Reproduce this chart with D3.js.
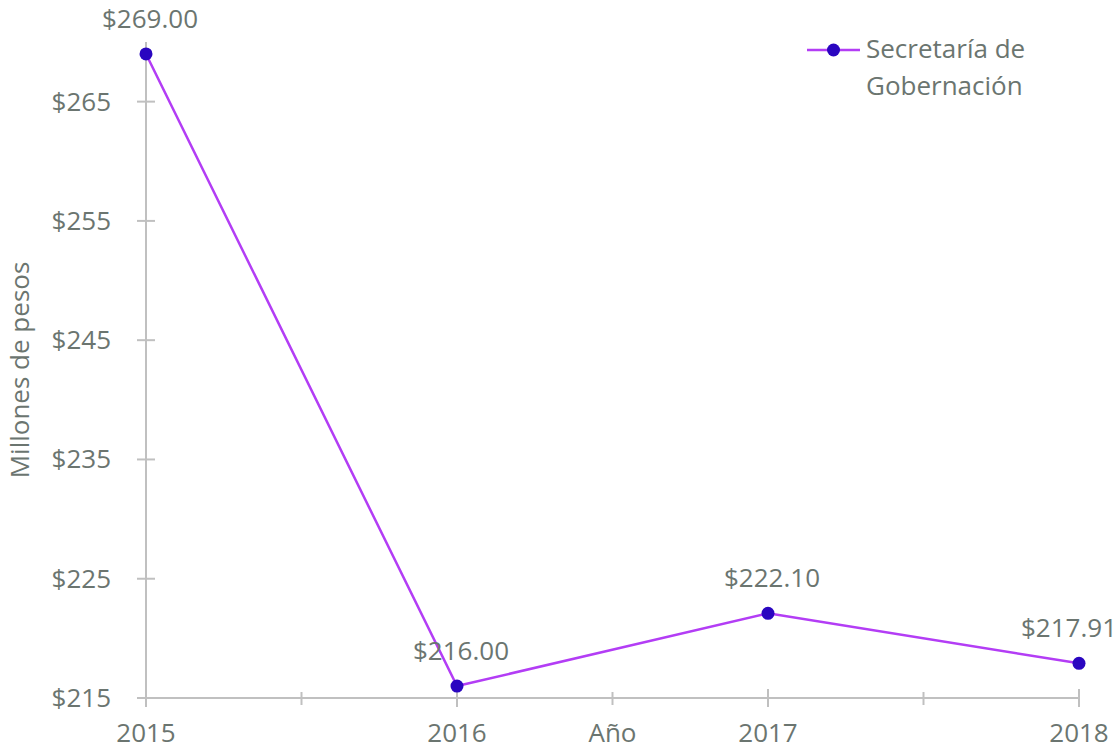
<!DOCTYPE html>
<html>
<head>
<meta charset="utf-8">
<script src="https://cdn.jsdelivr.net/npm/d3@7"></script>
<style>
  html, body { margin: 0; padding: 0; background: #fff; }
  svg { display: block; font-family: "Open Sans", sans-serif; }
</style>
</head>
<body>
<div id="chart"></div>
<script>
// Gasto anual, Secretaría de Gobernación (millones de pesos)
const years = [2015, 2016, 2017, 2018];
const values = [269.00, 216.00, 222.10, 217.91];
const valueLabels = ['$269.00', '$216.00', '$222.10', '$217.91'];
const yTickValues = [215, 225, 235, 245, 255, 265];
const seriesName = ['Secretaría de', 'Gobernación'];

const W = 1119, H = 749;
const margin = { top: 42, right: 40, bottom: 51, left: 146 };
const width = W - margin.left - margin.right;
const height = H - margin.top - margin.bottom;

const textColor = '#6b7570';
const axisColor = '#c0c0c0';
const lineColor = '#b33df5';
const dotColor = '#2a06c0';
const fontSize = 26;

const svg = d3.select('#chart').append('svg')
  .attr('width', W).attr('height', H);
const g = svg.append('g').attr('transform', `translate(${margin.left},${margin.top})`);

const x = d3.scaleLinear().domain([2015, 2018]).range([0, width]);
const y = d3.scaleLinear().domain([215, 270]).range([height, 0]);

// Axes lines
g.append('line')
  .attr('x1', 0).attr('x2', 0).attr('y1', 0).attr('y2', height + 9)
  .attr('stroke', axisColor).attr('stroke-width', 2);
g.append('line')
  .attr('x1', -9).attr('x2', width).attr('y1', height).attr('y2', height)
  .attr('stroke', axisColor).attr('stroke-width', 2);

// Y ticks cross the axis
g.selectAll('.y-tick')
  .data(yTickValues)
  .enter().append('line')
  .attr('x1', -9).attr('x2', 9)
  .attr('y1', (d) => y(d)).attr('y2', (d) => y(d))
  .attr('stroke', axisColor).attr('stroke-width', 2);

g.selectAll('.y-label')
  .data(yTickValues)
  .enter().append('text')
  .attr('x', -35).attr('y', (d) => y(d) + 9)
  .attr('text-anchor', 'end')
  .attr('font-size', fontSize)
  .attr('fill', textColor)
  .text((d) => `$${d}`);

// X ticks: majors on years, minors at half years
const minors = years.slice(0, -1).map((yr) => yr + 0.5);
g.selectAll('.x-major')
  .data(years.slice(1))
  .enter().append('line')
  .attr('x1', (d) => x(d)).attr('x2', (d) => x(d))
  .attr('y1', height - 9).attr('y2', height + 9)
  .attr('stroke', axisColor).attr('stroke-width', 2);
g.selectAll('.x-minor')
  .data(minors)
  .enter().append('line')
  .attr('x1', (d) => x(d)).attr('x2', (d) => x(d))
  .attr('y1', height - 6).attr('y2', height + 7)
  .attr('stroke', axisColor).attr('stroke-width', 2);

g.selectAll('.x-label')
  .data(years)
  .enter().append('text')
  .attr('x', (d) => x(d)).attr('y', height + 44)
  .attr('text-anchor', 'middle')
  .attr('font-size', fontSize)
  .attr('fill', textColor)
  .text((d) => d);

// Axis titles
g.append('text')
  .attr('x', x(2016.5)).attr('y', height + 44)
  .attr('text-anchor', 'middle')
  .attr('font-size', fontSize)
  .attr('fill', textColor)
  .text('Año');
svg.append('text')
  .attr('transform', `translate(29,${margin.top + height / 2}) rotate(-90)`)
  .attr('text-anchor', 'middle')
  .attr('font-size', fontSize)
  .attr('fill', textColor)
  .text('Millones de pesos');

// Series
const rows = years.map((yr, i) => ({ year: yr, value: values[i], label: valueLabels[i] }));
const line = d3.line().x((d) => x(d.year)).y((d) => y(d.value));
g.append('path')
  .datum(rows)
  .attr('d', line)
  .attr('fill', 'none')
  .attr('stroke', lineColor)
  .attr('stroke-width', 2.5);

g.selectAll('.dot')
  .data(rows)
  .enter().append('circle')
  .attr('cx', (d) => x(d.year)).attr('cy', (d) => y(d.value))
  .attr('r', 6.5)
  .attr('fill', dotColor);

// Value labels; the last one is kept inside the chart edge
g.selectAll('.val')
  .data(rows)
  .enter().append('text')
  .attr('x', (d, i) => i === rows.length - 1 ? width + 38 : x(d.year) + 4)
  .attr('y', (d) => y(d.value) - 26)
  .attr('text-anchor', (d, i) => i === rows.length - 1 ? 'end' : 'middle')
  .attr('font-size', fontSize)
  .attr('fill', textColor)
  .text((d) => d.label);

// Legend
const leg = svg.append('g').attr('transform', 'translate(807,50)');
leg.append('line')
  .attr('x1', 0).attr('x2', 53).attr('y1', 0).attr('y2', 0)
  .attr('stroke', lineColor).attr('stroke-width', 2.5);
leg.append('circle').attr('cx', 26.5).attr('cy', 0).attr('r', 6.5).attr('fill', dotColor);
leg.selectAll('text')
  .data(seriesName)
  .enter().append('text')
  .attr('x', 59).attr('y', (d, i) => 8 + i * 37)
  .attr('font-size', fontSize)
  .attr('fill', textColor)
  .text((d) => d);
</script>
</body>
</html>
